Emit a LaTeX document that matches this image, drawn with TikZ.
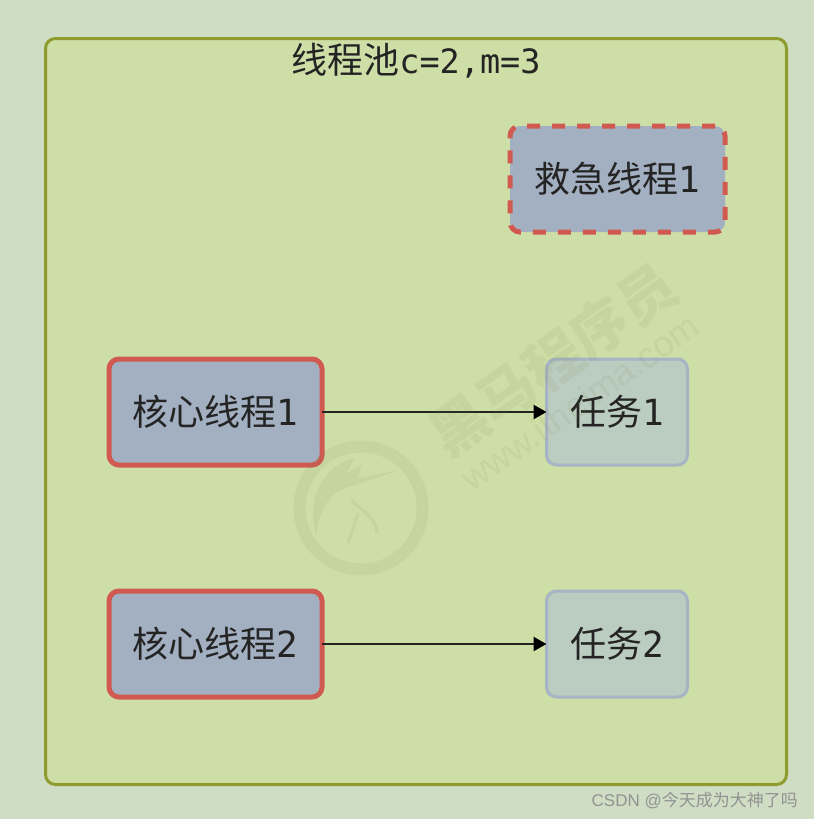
\documentclass[tikz,border=0pt]{standalone}
\usepackage{fontspec}
\setmainfont{Noto Sans CJK SC}
\setmonofont{DejaVu Sans Mono}
\setsansfont{Liberation Sans}
\usepackage{tikz}
\usetikzlibrary{arrows.meta,positioning}
\definecolor{pagebg}{RGB}{206,221,195}
\definecolor{poolfill}{RGB}{206,222,167}
\definecolor{poolline}{RGB}{143,156,45}
\definecolor{threadfill}{RGB}{163,176,193}
\definecolor{threadline}{RGB}{208,90,80}
\definecolor{taskfill}{RGB}{187,204,192}
\definecolor{taskline}{RGB}{166,180,196}
\definecolor{inkc}{RGB}{36,36,36}
\definecolor{markc}{RGB}{120,130,70}
\begin{document}
\begin{tikzpicture}[x=1pt,y=-1pt,
    box/.style={rectangle,rounded corners=10pt,outer sep=0pt,inner sep=0pt,text=inkc,font=\fontsize{36}{40}\selectfont},
    core/.style={box,draw=threadline,fill=threadfill,line width=5pt,minimum width=213pt,minimum height=106pt},
    rescue/.style={core,dash pattern=on 13pt off 12pt,minimum width=215pt},
    task/.style={box,draw=taskline,fill=taskfill,line width=3pt,minimum width=141pt,minimum height=106pt},
    link/.style={draw=inkc,line width=2.5pt,-{Triangle[length=13pt,width=14pt,color=black]}},
    wmark/.style={text=markc,text opacity=.09,inner sep=0pt,rotate=35},
    wlogo/.style={draw=markc,draw opacity=.09,fill=none}]
    \useasboundingbox[fill=pagebg] (0,0) rectangle (814,819);
    \node[rectangle,rounded corners=10pt,draw=poolline,fill=poolfill,line width=3pt,outer sep=0pt,
      minimum width=741pt,minimum height=746pt] (pool) at (416,411.5) {};
    \node[text=inkc,inner sep=0pt,font=\fontsize{36}{40}\selectfont] (title) at (416,61) {线程池\texttt{\fontsize{33.5}{40}\selectfont c=2,m=3}};
    \node[rescue] (e1) at (617.5,179) {救急线程\texttt{1}};
    \node[core] (c1) at (215.5,412) {核心线程\texttt{1}};
    \node[task,right=224.5pt of c1] (t1) {任务\texttt{1}};
    \node[core,below=126pt of c1] (c2) {核心线程\texttt{2}};
    \node[task,right=224.5pt of c2] (t2) {任务\texttt{2}};
    \draw[link] (c1) -- (t1);
    \draw[link] (c2) -- (t2);
    % watermarks
    \node[wmark,font=\bfseries\fontsize{57}{60}\selectfont] (brand) at (553,360) {黑马程序员};
    \node[wmark,font=\sffamily\fontsize{36}{36}\selectfont] (site) at (580,402) {www.itheima.com};
    \node[circle,wlogo,line width=12pt,minimum size=123pt,inner sep=0pt] (logo) at (361,508) {};
    \fill[markc,opacity=.09] (316,535) .. controls (306,500) and (322,465) .. (355,458)
      -- (346,474) -- (362,464) -- (358,478) -- (400,470) -- (352,486) .. controls (325,492) and (320,515) .. (316,535);
    \draw[wlogo,line width=3pt] (351,500) .. controls (360,510) and (375,515) .. (377,533);
    \draw[wlogo,line width=3pt] (358,513) -- (348,543);
    \node[text=gray!85,inner sep=0pt,anchor=east,font=\fontsize{17}{20}\selectfont] (csdn) at (798,800) {\textsf{CSDN @}今天成为大神了吗};
  \end{tikzpicture}
\end{document}
